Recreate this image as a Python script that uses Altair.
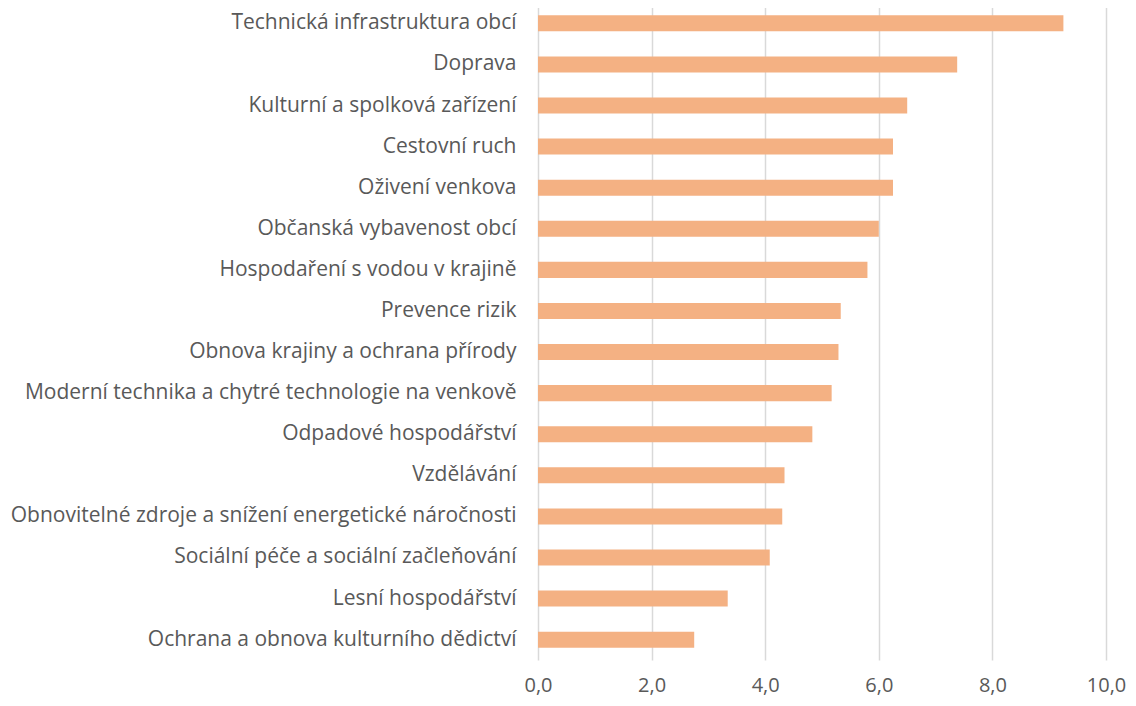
import altair as alt
import pandas as pd

categories = [
    "Technická infrastruktura obcí",
    "Doprava",
    "Kulturní a spolková zařízení",
    "Cestovní ruch",
    "Oživení venkova",
    "Občanská vybavenost obcí",
    "Hospodaření s vodou v krajině",
    "Prevence rizik",
    "Obnova krajiny a ochrana přírody",
    "Moderní technika a chytré technologie na venkově",
    "Odpadové hospodářství",
    "Vzdělávání",
    "Obnovitelné zdroje a snížení energetické náročnosti",
    "Sociální péče a sociální začleňování",
    "Lesní hospodářství",
    "Ochrana a obnova kulturního dědictví",
]
values = [9.25, 7.38, 6.50, 6.25, 6.25, 6.00, 5.80, 5.33, 5.29, 5.17, 4.83, 4.34, 4.30, 4.08, 3.34, 2.75]
x_ticks = [0, 2, 4, 6, 8, 10]

df = pd.DataFrame({"kategorie": categories, "hodnota": values})

FONT = "Open Sans"
GREY = "#595959"

chart = alt.Chart(df).mark_bar(color="#f4b183").encode(
    x=alt.X(
        "hodnota:Q",
        scale=alt.Scale(domain=[0, 10], nice=False),
        axis=alt.Axis(
            values=x_ticks,
            title=None,
            grid=True,
            gridColor="#d9d9d9",
            gridWidth=1.5,
            domain=False,
            ticks=False,
            labelFlush=False,
            labelPadding=15,
            labelFontSize=20,
            labelFont=FONT,
            labelColor=GREY,
            labelExpr="replace(format(datum.value, '.1f'), '.', ',')",
        ),
    ),
    y=alt.Y(
        "kategorie:N",
        sort=categories,
        scale=alt.Scale(paddingInner=0.61, paddingOuter=0.3),
        axis=alt.Axis(
            title=None,
            domain=False,
            ticks=False,
            labelPadding=22,
            labelFontSize=21,
            labelFont=FONT,
            labelColor=GREY,
            labelLimit=600,
        ),
    ),
).properties(
    width=568,
    height=657,
    autosize=alt.AutoSizeParams(type="none"),
    padding={"left": 530, "top": -5, "right": 20, "bottom": 38},
).configure_view(stroke=None)

chart.save("out.html", embed_options={"renderer": "svg", "actions": False})
